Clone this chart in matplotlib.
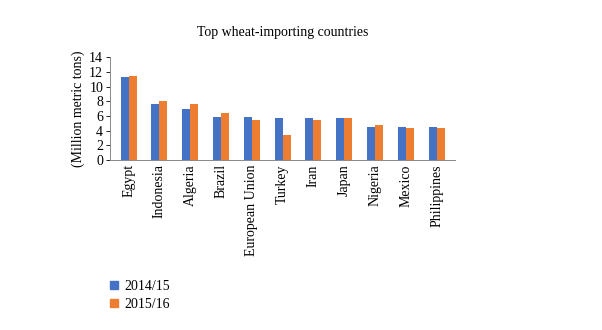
import numpy as np
from matplotlib import pyplot as plt
from matplotlib.patches import Patch

plt.rcParams["font.family"] = ["Liberation Serif", "DejaVu Serif"]

countries = ["Egypt", "Indonesia", "Algeria", "Brazil", "European Union", "Turkey",
             "Iran", "Japan", "Nigeria", "Mexico", "Philippines"]
y2014 = [11.3, 7.6, 7.0, 5.9, 5.9, 5.7, 5.7, 5.7, 4.5, 4.5, 4.5]
y2015 = [11.4, 8.0, 7.6, 6.4, 5.4, 3.4, 5.4, 5.7, 4.8, 4.3, 4.3]
blue, orange = "#4472C4", "#ED7D31"

fig = plt.figure(figsize=(6.02, 3.30), dpi=100)
ax = fig.add_axes([0.183, 0.515, 0.573, 0.312])
x = np.arange(len(countries))
w = 0.26
ax.bar(x - w / 2, y2014, w, color=blue)
ax.bar(x + w / 2, y2015, w, color=orange)
ax.set_ylim(0, 14)
ax.set_yticks(range(0, 15, 2))
ax.set_xlim(-0.6, len(countries) - 0.4)
ax.set_xticks(x)
ax.set_xticklabels(countries, rotation=90, fontsize=10)
ax.tick_params(axis="x", length=0, pad=3)
ax.tick_params(axis="y", labelsize=10, length=3, width=0.6, pad=2)
for s in ["top", "right"]:
    ax.spines[s].set_visible(False)
ax.spines["left"].set_color("#888888")
ax.spines["bottom"].set_color("#888888")
ax.spines["left"].set_linewidth(0.7)
ax.spines["bottom"].set_linewidth(0.7)
ax.set_ylabel("(Million metric tons)", fontsize=10, labelpad=3)
fig.text(0.47, 0.89, "Top wheat-importing countries", ha="center", fontsize=10)

handles = [Patch(color=blue, label="2014/15"), Patch(color=orange, label="2015/16")]
fig.legend(handles=handles, loc="upper left", bbox_to_anchor=(0.162, 0.19),
           frameon=False, fontsize=10, handlelength=0.55, handleheight=0.55,
           handletextpad=0.5, labelspacing=0.35)

plt.savefig("out.png")
plt.close()
